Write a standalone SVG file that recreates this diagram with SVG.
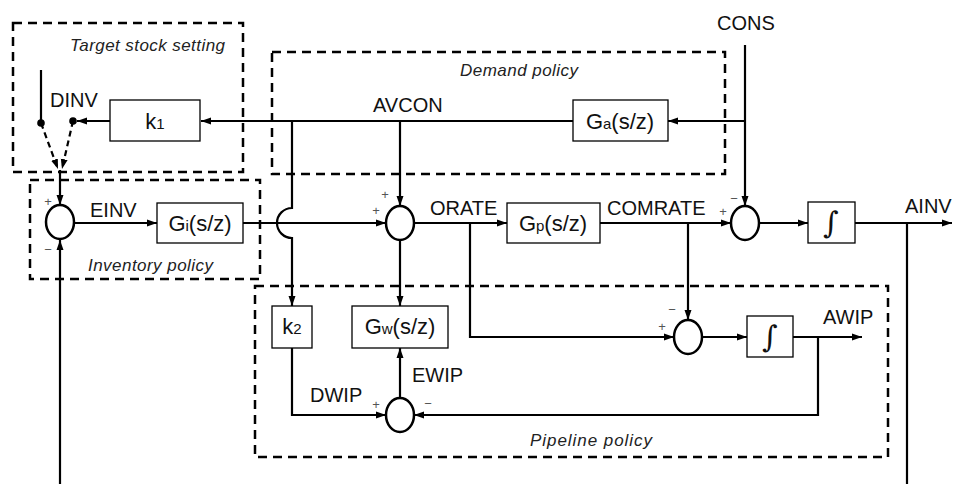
<svg xmlns="http://www.w3.org/2000/svg" width="960" height="484" viewBox="0 0 960 484">
<defs>
<marker id="ah" markerUnits="userSpaceOnUse" markerWidth="10" markerHeight="10" viewBox="0 0 10 10" refX="10" refY="5" orient="auto"><path d="M0 1.5 L10 5 L0 8.5 Z" fill="#000"/></marker>
</defs>
<style>
.grp{fill:none;stroke:#000;stroke-width:2.5;stroke-dasharray:9 6}
.box{fill:#fff;stroke:#000;stroke-width:1.3}
.sum{fill:#fff;stroke:#000;stroke-width:2.5}
.ln{fill:none;stroke:#000;stroke-width:2.2}
.ar{fill:none;stroke:#000;stroke-width:2.2;marker-end:url(#ah)}
.dl{fill:none;stroke:#000;stroke-width:2.2;stroke-dasharray:6 4;marker-end:url(#ah)}
.lbl{font-family:"Liberation Sans",Arial,sans-serif;font-size:20px;fill:#111}
.bt{font-family:"Liberation Sans",Arial,sans-serif;font-size:22px;fill:#111;text-anchor:middle}
.sb{font-size:15px}
.ig{font-family:"DejaVu Serif",serif;font-size:30px;fill:#111;text-anchor:middle}
.it{font-family:"Liberation Sans",Arial,sans-serif;font-size:17px;font-style:italic;fill:#222}
.sg{font-family:"Liberation Sans",Arial,sans-serif;font-size:13px;fill:#555;text-anchor:middle}
</style>
<rect width="960" height="484" fill="#fff"/>
<g id="groups">
<rect class="grp" x="13" y="23" width="230" height="149"/>
<text class="it" x="70" y="51" textLength="155">Target stock setting</text>
<rect class="grp" x="272" y="52" width="453" height="122"/>
<text class="it" x="460" y="76" textLength="118">Demand policy</text>
<rect class="grp" x="30" y="180" width="230" height="99"/>
<text class="it" x="88" y="271" textLength="125">Inventory policy</text>
<rect class="grp" x="255" y="286" width="633" height="171"/>
<text class="it" x="530" y="446" textLength="122">Pipeline policy</text>
</g>
<g id="connectors">
<path class="ln" d="M41 70 V123"/>
<path class="ar" d="M573 121 H201"/>
<path class="ar" d="M110 121 H77"/>
<circle cx="41" cy="123" r="3.8"/>
<circle cx="73" cy="121" r="3.8"/>
<path class="dl" d="M41 123 L58 169"/>
<path class="dl" d="M73 121 L62 169"/>
<path class="ar" d="M60 170 V205"/>
<path class="ar" d="M60 484 V240"/>
<path class="ar" d="M74 223 H157"/>
<path class="ar" d="M243 223 H386"/>
<path class="ar" d="M292 121 V208 A15 15 0 0 0 292 238 V306"/>
<path class="ar" d="M400 121 V206"/>
<path class="ar" d="M414 223 H507"/>
<path class="ar" d="M470 223 V337 H674"/>
<path class="ar" d="M600 223 H731"/>
<path class="ar" d="M688 223 V320"/>
<path class="ar" d="M745 45 V206"/>
<path class="ar" d="M745 121 H668"/>
<path class="ar" d="M759 223 H808"/>
<path class="ar" d="M855 223 H952"/>
<path class="ln" d="M907 223 V484"/>
<path class="ar" d="M400 240 V306"/>
<path class="ar" d="M400 398 V348"/>
<path class="ar" d="M292 348 V415 H386"/>
<path class="ar" d="M702 337 H747"/>
<path class="ar" d="M793 337 H862"/>
<path class="ar" d="M818 337 V415 H414"/>
</g>
<g id="labels">
<text class="lbl" x="50" y="107">DINV</text>
<text class="lbl" x="90" y="217">EINV</text>
<text class="lbl" x="373" y="112">AVCON</text>
<text class="lbl" x="430" y="215">ORATE</text>
<text class="lbl" x="607" y="215">COMRATE</text>
<text class="lbl" x="717" y="30">CONS</text>
<text class="lbl" x="905" y="213">AINV</text>
<text class="lbl" x="823" y="324">AWIP</text>
<text class="lbl" x="412" y="382">EWIP</text>
<text class="lbl" x="310" y="402">DWIP</text>
</g>
<g id="k1"><rect class="box" x="110" y="100" width="90" height="41"/><text class="bt" x="155" y="129">k<tspan class="sb">1</tspan></text></g>
<g id="Ga"><rect class="box" x="573" y="100" width="95" height="41"/><text class="bt" x="620" y="129">G<tspan class="sb">a</tspan>(s/z)</text></g>
<g id="Gi"><rect class="box" x="157" y="203" width="86" height="40"/><text class="bt" x="200" y="231">G<tspan class="sb">i</tspan>(s/z)</text></g>
<g id="Gp"><rect class="box" x="507" y="203" width="93" height="40"/><text class="bt" x="553" y="231">G<tspan class="sb">p</tspan>(s/z)</text></g>
<g id="int1"><rect class="box" x="808" y="202" width="47" height="41"/><text class="ig" x="831" y="233">∫</text></g>
<g id="k2"><rect class="box" x="272" y="306" width="40" height="42"/><text class="bt" x="292" y="334">k<tspan class="sb">2</tspan></text></g>
<g id="Gw"><rect class="box" x="352" y="306" width="96" height="42"/><text class="bt" x="400" y="334">G<tspan class="sb">w</tspan>(s/z)</text></g>
<g id="int2"><rect class="box" x="747" y="316" width="46" height="41"/><text class="ig" x="770" y="347">∫</text></g>
<g id="sum1"><ellipse class="sum" cx="60" cy="222" rx="14" ry="17"/><text class="sg" x="48" y="206">+</text><text class="sg" x="48" y="254">−</text></g>
<g id="sum2"><ellipse class="sum" cx="400" cy="223" rx="14" ry="17"/><text class="sg" x="385" y="199">+</text><text class="sg" x="376" y="215">+</text></g>
<g id="sum4"><ellipse class="sum" cx="745" cy="223" rx="14" ry="17"/><text class="sg" x="723" y="216">+</text><text class="sg" x="734" y="203">−</text></g>
<g id="sum3"><ellipse class="sum" cx="688" cy="337" rx="14" ry="17"/><text class="sg" x="672" y="314">−</text><text class="sg" x="662" y="331">+</text></g>
<g id="sum5"><ellipse class="sum" cx="400" cy="415" rx="14" ry="17"/><text class="sg" x="376" y="409">+</text><text class="sg" x="428" y="408">−</text></g>
</svg>
